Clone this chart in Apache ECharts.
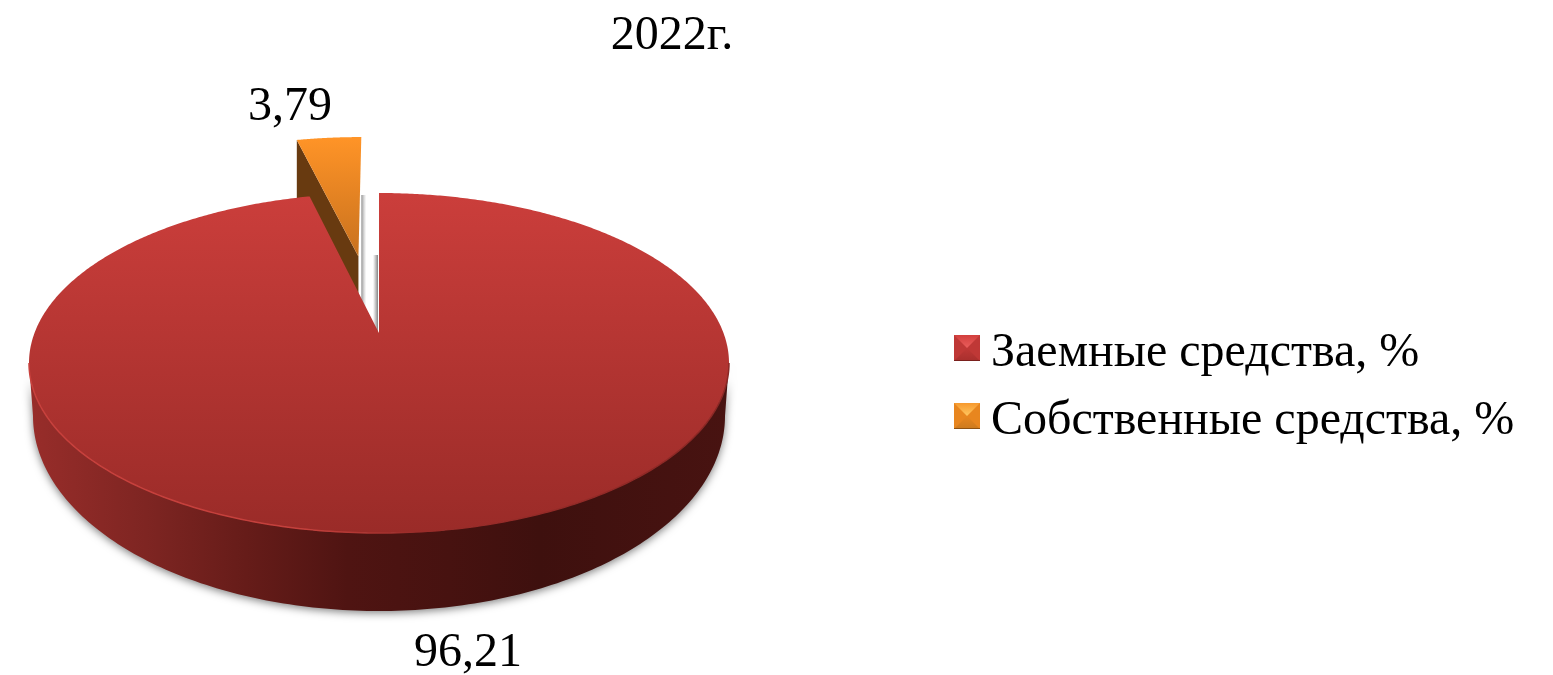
<!DOCTYPE html>
<html><head><meta charset="utf-8">
<style>html,body{margin:0;padding:0;background:#fff}#c{width:1553px;height:675px}</style>
<script src="https://cdn.jsdelivr.net/npm/echarts@6/dist/echarts.min.js"></script>
</head><body><div id="c"></div>
<script>
const titleText = '2022г.';
const categories = ['Заемные средства, %', 'Собственные средства, %'];
const values = [96.21, 3.79];

const SERIF = '"Liberation Serif","Times New Roman",serif';
const LG = (x0,y0,x1,y1,stops)=>new echarts.graphic.LinearGradient(x0,y0,x1,y1,stops.map((c,i)=>Array.isArray(c)?{offset:c[0],color:c[1]}:{offset:i/(stops.length-1),color:c}));

// perspective projection of the pie disc
const CX=379, AY=333, A=164.7, B=344.5, K=0.1765;
const proj=(u,v)=>{const w=1/(1+K*v);return [CX+B*u*w, AY-A*v*w];};
const rim=(deg,e,ed)=>{const t=deg*Math.PI/180,m=(ed||0)*Math.PI/180;
  return proj(Math.sin(t)+(e||0)*Math.sin(m),Math.cos(t)+(e||0)*Math.cos(m));};
const total=values.reduce((a,b)=>a+b,0);
const startDeg=i=>values.slice(0,i).reduce((a,b)=>a+b,0)/total*360;
const EXPLODE=0.51;

function svgIcon(edge,light,side,low,bottom){
  const s=`<svg xmlns="http://www.w3.org/2000/svg" width="26" height="26"><defs>`+
  `<linearGradient id="g" x1="0" y1="0" x2="0" y2="1"><stop offset="0" stop-color="${edge}"/><stop offset="1" stop-color="${light}"/></linearGradient>`+
  `<linearGradient id="b" x1="0" y1="0" x2="0" y2="1"><stop offset="0" stop-color="${side}"/><stop offset="1" stop-color="${low}"/></linearGradient></defs>`+
  `<rect width="26" height="26" fill="${side}"/>`+
  `<polygon points="0,26 26,26 13,13" fill="url(#b)"/>`+
  `<polygon points="0,0 26,0 13,13" fill="url(#g)"/>`+
  `<rect y="25" width="26" height="1" fill="${bottom}"/></svg>`;
  return 'image://data:image/svg+xml;charset=utf-8,'+encodeURIComponent(s);
}
const icons=[svgIcon('#d23f3d','#ea5e5c','#bf3836','#a82f2d','#7a201d'),svgIcon('#f7992e','#ffc760','#e8861f','#cc7a1e','#8f5212')];

function renderMain(params,api){
  const v=api.value(0), a0=startDeg(0), a1=a0+v/total*360;
  const top=[[CX,AY]];
  for(let d=a0;d<=a1;d+=0.5) top.push(rim(d));
  top.push(rim(a1));
  const BY=416,BRX=346,BRY=195;
  const wall=[];
  for(let t=180;t>=0;t-=1){const r=t*Math.PI/180;wall.push([CX+BRX*Math.cos(r),BY+BRY*Math.sin(r)]);}
  for(let t=0;t<=180;t+=1){const r=t*Math.PI/180;wall.push([CX+350*Math.cos(r),363+170*Math.sin(r)]);}
  const front=[];
  for(let t=180;t>=0;t-=1){const r=t*Math.PI/180;front.push([CX+350*Math.cos(r),363+170*Math.sin(r)]);}
  return {type:'group',children:[
    {type:'polygon',shape:{points:wall},style:{fill:LG(0,0,1,0,[[0,'#982d2a'],[0.168,'#7e2522'],[0.31,'#661c19'],[0.455,'#4f1412'],[0.6,'#471210'],[0.73,'#3e100e'],[1,'#481311']]),
      shadowBlur:9,shadowColor:'rgba(40,40,40,0.6)',shadowOffsetY:2}},
    {type:'polygon',shape:{points:[[CX-6,255],[CX-1,255],[CX-1,AY],[CX-6,AY]]},style:{fill:LG(0,0,1,0,['rgba(130,130,130,0)','rgba(110,110,110,0.85)'])}},
    {type:'polygon',shape:{points:top},style:{fill:LG(0,0,0,1,['#cb3e3b','#9a2b28'])}},
    {type:'polyline',shape:{points:front},style:{fill:null,stroke:LG(0,0,1,0,[[0,'#c8403c'],[0.4,'#c4403c'],[0.55,'#9a2c29'],[1,'#8a2724']]),lineWidth:1.5}},
    {type:'text',x:468,y:653,style:{text:String(v).replace('.',','),fill:'#000',font:'48px '+SERIF,align:'center',verticalAlign:'middle'}}
  ]};
}
function renderSmall(params,api){
  const v=api.value(0), a0=startDeg(1), a1=a0+v/total*360, mid=(a0+a1)/2, dir=mid-0.5;
  const apex=proj(EXPLODE*Math.sin(dir*Math.PI/180),EXPLODE*Math.cos(dir*Math.PI/180));
  const top=[apex];
  for(let d=a0;d<=a1;d+=0.25) top.push(rim(d,EXPLODE,dir));
  top.push(rim(a1,EXPLODE,dir));
  const p0=rim(a0,EXPLODE,dir), p1=rim(a1,EXPLODE,dir);
  const edge=Math.max(p1[0],apex[0]);
  return {type:'group',children:[
    {type:'polygon',shape:{points:[[edge,195],[edge+5,195],[edge+5,318],[edge,318]]},style:{fill:LG(0,0,1,0,['rgba(120,120,120,0.8)','rgba(170,170,170,0)'])}},
    {type:'polygon',shape:{points:[p0,apex,[apex[0],apex[1]+39],[p0[0],p0[1]+65]]},style:{fill:'#683a10'}},
    {type:'polygon',shape:{points:top},style:{fill:LG(0,0,0,1,['#ff9427','#c8711e'])}},
    {type:'text',x:290,y:107,style:{text:String(v).replace('.',','),fill:'#000',font:'48px '+SERIF,align:'center',verticalAlign:'middle'}}
  ]};
}

const chart=echarts.init(document.getElementById('c'),null,{renderer:'canvas'});
chart.setOption({
  animation:false,
  backgroundColor:'#fff',
  title:{text:titleText,left:667,top:7,textAlign:'center',textStyle:{fontFamily:SERIF,fontSize:48,fontWeight:'normal',color:'#000'}},
  legend:{orient:'vertical',left:949,top:324,itemWidth:26,itemHeight:26,itemGap:20,selectedMode:false,
    formatter:n=>'{t|'+n+'}',
    textStyle:{fontFamily:SERIF,fontSize:48,color:'#000',padding:[0,0,0,6],
      rich:{t:{fontFamily:SERIF,fontSize:48,color:'#000',lineHeight:58,verticalAlign:'bottom'}}},
    data:categories.map((c,i)=>({name:c,icon:icons[i]}))},
  series:[
    {type:'custom',name:categories[1],coordinateSystem:'none',z:2,silent:true,itemStyle:{color:'#ee8a22'},data:[values[1]],renderItem:renderSmall},
    {type:'custom',name:categories[0],coordinateSystem:'none',z:3,silent:true,itemStyle:{color:'#c23a38'},data:[values[0]],renderItem:renderMain}
  ]
});
</script></body></html>
